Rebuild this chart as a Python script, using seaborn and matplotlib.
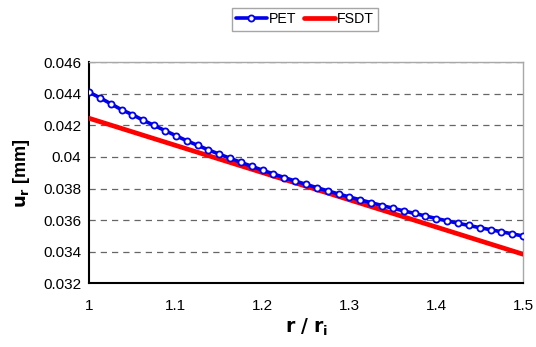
import matplotlib
matplotlib.use("Agg")
import matplotlib.pyplot as plt
import seaborn as sns
import pandas as pd
from matplotlib.ticker import AutoMinorLocator

# ---- data ----
r_pet = [1.0 + 0.0125 * i for i in range(41)]
u_pet = [0.04410, 0.04375, 0.04337, 0.04299, 0.04268, 0.04232, 0.04200, 0.04167,
         0.04135, 0.04103, 0.04074, 0.04045, 0.04018, 0.03992, 0.03966, 0.03941,
         0.03916, 0.03893, 0.03870, 0.03848, 0.03827, 0.03806, 0.03786, 0.03766,
         0.03747, 0.03729, 0.03711, 0.03693, 0.03676, 0.03659, 0.03643, 0.03627,
         0.03611, 0.03596, 0.03581, 0.03567, 0.03553, 0.03540, 0.03527, 0.03514,
         0.03500]
r_fsdt = [1.00, 1.05, 1.10, 1.15, 1.20, 1.25, 1.30, 1.35, 1.40, 1.45, 1.50]
u_fsdt = [0.04245, 0.04159, 0.04073, 0.03987, 0.03901, 0.03815, 0.03729,
          0.03643, 0.03557, 0.03471, 0.03385]
x_ticks = [1.0, 1.1, 1.2, 1.3, 1.4, 1.5]
x_tick_labels = ["1", "1.1", "1.2", "1.3", "1.4", "1.5"]
y_ticks = [0.032, 0.034, 0.036, 0.038, 0.040, 0.042, 0.044, 0.046]
y_tick_labels = ["0.032", "0.034", "0.036", "0.038", "0.04", "0.042", "0.044", "0.046"]

df_pet = pd.DataFrame({"r": r_pet, "u": u_pet})
df_fsdt = pd.DataFrame({"r": r_fsdt, "u": u_fsdt})

sns.set_style("white")
plt.rcParams["font.family"] = ["Liberation Sans", "DejaVu Sans"]
plt.rcParams["text.color"] = "black"
plt.rcParams["axes.labelcolor"] = "black"
plt.rcParams["xtick.color"] = "black"
plt.rcParams["ytick.color"] = "black"

fig = plt.figure(figsize=(5.36, 3.47), dpi=100)
ax = fig.add_axes([0.166, 0.183, 0.810, 0.638])

sns.lineplot(data=df_pet, x="r", y="u", ax=ax, color="#0000EE", lw=2.6,
             marker="o", markersize=4.4, markerfacecolor="white",
             markeredgecolor="#0000EE", markeredgewidth=1.3, label="PET",
             zorder=4)
sns.lineplot(data=df_fsdt, x="r", y="u", ax=ax, color="#FF0000", lw=3.4,
             label="FSDT", zorder=3)

ax.set_xlim(1.0, 1.5)
ax.set_ylim(0.032, 0.046)
ax.set_xticks(x_ticks)
ax.set_xticklabels(x_tick_labels)
ax.set_yticks(y_ticks)
ax.set_yticklabels(y_tick_labels)
ax.xaxis.set_minor_locator(AutoMinorLocator(4))
ax.yaxis.set_minor_locator(AutoMinorLocator(6))

ax.tick_params(axis="both", which="major", direction="inout", length=7,
               width=1.2, color="black", labelcolor="black", labelsize=11, pad=3)
ax.tick_params(axis="both", which="minor", direction="in", length=3.5,
               width=1.2, color="black")
ax.tick_params(axis="x", which="major", pad=8)
ax.tick_params(axis="y", which="major", pad=2)

ax.yaxis.grid(True, which="major", linestyle=(0, (5, 4)), color="#666666", lw=0.9)
ax.xaxis.grid(False)

for s in ["left", "bottom"]:
    ax.spines[s].set_color("black")
    ax.spines[s].set_linewidth(1.5)
for s in ["top", "right"]:
    ax.spines[s].set_color("#a8a8a8")
    ax.spines[s].set_linewidth(1.0)

ax.set_xlabel(r"$\mathbf{r\ /\ r_i}$", fontsize=13.5, labelpad=2, color="black")
ax.set_ylabel(r"$\mathbf{u_r}$ [mm]", fontsize=13, fontweight="bold",
              labelpad=8, color="black")

leg = ax.legend(loc="center", bbox_to_anchor=(0.569, 0.944),
                bbox_transform=fig.transFigure, ncol=2, frameon=True,
                fancybox=False, edgecolor="#909090", fontsize=10.2,
                handlelength=2.2, handletextpad=0.15, columnspacing=0.5,
                borderpad=0.3, borderaxespad=0)
leg.get_frame().set_linewidth(1.0)
for t in leg.get_texts():
    t.set_color("black")

fig.savefig("out.png", dpi=100)
